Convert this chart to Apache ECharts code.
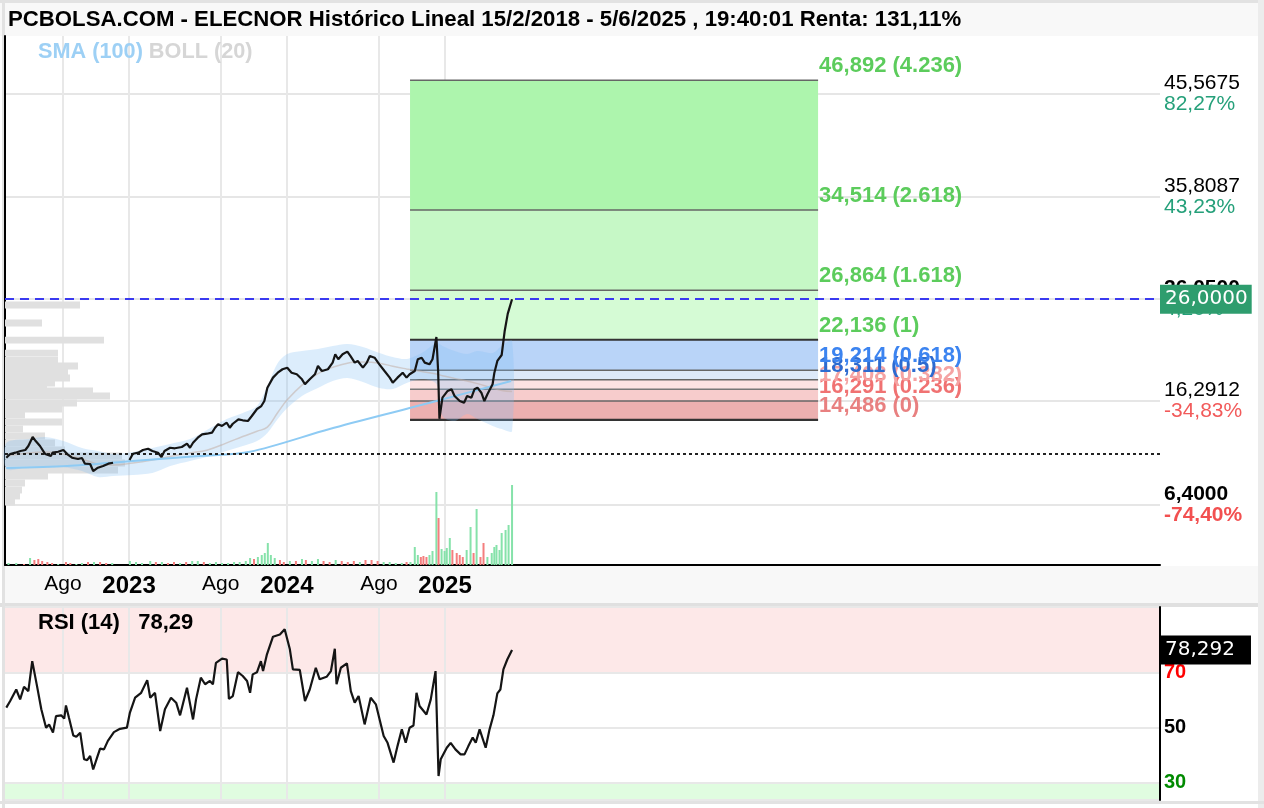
<!DOCTYPE html>
<html><head><meta charset="utf-8">
<script src="https://cdn.jsdelivr.net/npm/echarts@6/dist/echarts.min.js"></script>
<style>html,body{margin:0;padding:0;background:#fff}#c{width:1264px;height:808px}</style>
</head><body><div id="c"></div>
<script>
// ---------------- DATA ----------------
const priceDates = ['2022-03-23','2022-04-01','2022-04-13','2022-04-25','2022-05-06','2022-05-13','2022-05-23','2022-05-30','2022-06-09','2022-06-21','2022-07-04','2022-07-08','2022-07-21','2022-08-02','2022-08-11','2022-08-22','2022-09-05','2022-09-14','2022-09-21','2022-10-03','2022-10-10','2022-10-21','2022-11-02','2022-11-14','2022-11-25','2022-12-15','2023-01-02','2023-01-10','2023-01-23','2023-02-02','2023-02-14','2023-02-24','2023-03-09','2023-03-17','2023-03-24','2023-04-06','2023-04-17','2023-05-03','2023-05-15','2023-05-22','2023-05-29','2023-06-09','2023-06-19','2023-06-30','2023-07-12','2023-07-19','2023-07-26','2023-08-04','2023-08-15','2023-08-22','2023-08-29','2023-09-11','2023-09-21','2023-10-03','2023-10-12','2023-10-24','2023-11-03','2023-11-10','2023-11-17','2023-11-30','2023-12-11','2023-12-22','2024-01-02','2024-01-12','2024-01-24','2024-02-05','2024-02-12','2024-02-23','2024-03-06','2024-03-13','2024-03-22','2024-04-05','2024-04-16','2024-04-22','2024-04-29','2024-05-09','2024-05-20','2024-05-27','2024-06-06','2024-06-13','2024-06-25','2024-07-04','2024-07-11','2024-07-22','2024-08-02','2024-08-14','2024-08-26','2024-09-02','2024-09-13','2024-09-25','2024-10-04','2024-10-11','2024-10-23','2024-10-30','2024-11-08','2024-11-15','2024-11-26','2024-12-03','2024-12-12','2024-12-16','2024-12-19','2024-12-26','2025-01-07','2025-01-16','2025-01-23','2025-02-04','2025-02-14','2025-02-21','2025-03-03','2025-03-10','2025-03-17','2025-03-26','2025-04-02','2025-04-09','2025-04-21','2025-04-25','2025-05-02','2025-05-12','2025-05-19','2025-05-26','2025-06-05'];
const priceValues = [10.88,11.23,11.36,11.52,11.62,12.00,12.86,12.47,12.00,11.23,11.04,11.36,11.45,11.62,11.23,10.88,10.76,10.85,10.31,10.28,9.61,9.93,10.09,10.31,10.40,null,10.66,11.26,11.36,11.62,11.74,11.52,11.36,10.95,11.52,11.83,11.78,11.90,12.22,11.83,12.31,12.79,13.11,13.17,13.27,13.74,14.07,13.91,14.22,13.74,14.12,14.54,14.45,14.38,14.86,15.53,15.81,16.29,17.56,18.52,18.99,19.32,19.47,18.99,18.84,18.36,17.89,18.36,18.84,19.63,19.15,19.32,19.95,20.75,20.27,20.75,21.00,20.59,19.95,20.11,19.47,19.95,20.59,20.42,19.79,19.15,18.52,18.04,18.52,18.99,18.52,18.84,19.15,20.27,20.42,19.95,19.79,20.27,22.40,19.15,14.60,16.61,17.25,17.41,16.77,16.29,16.13,16.77,16.61,17.41,17.56,17.08,16.29,16.93,17.89,18.96,20.11,20.68,22.97,24.60,26.00];

const smaDates = ['2022-03-23','2022-08-11','2023-01-10','2023-06-12','2023-10-08','2024-04-09','2024-10-11','2024-12-12','2025-06-03'];
const smaValues = [9.90,10.09,10.57,11.04,11.45,13.62,15.62,16.29,18.20];

const bollDates = ['2022-03-23','2022-05-13','2022-06-21','2022-08-02','2022-09-14','2022-10-21','2022-11-25','2023-01-10','2023-02-24','2023-04-06','2023-05-22','2023-06-30','2023-08-15','2023-09-21','2023-10-24','2023-11-17','2023-12-11','2024-01-02','2024-02-05','2024-03-13','2024-04-16','2024-05-20','2024-06-25','2024-08-02','2024-09-02','2024-10-04','2024-11-08','2024-12-12','2024-12-26','2025-01-23','2025-02-21','2025-03-17','2025-04-21','2025-05-12','2025-06-05'];
const bollUpper = [12.28,12.66,12.86,12.47,11.81,11.52,11.23,11.42,11.81,12.19,12.66,13.52,14.57,15.15,15.81,17.72,19.92,20.78,21.06,21.25,21.54,21.73,21.44,20.87,20.49,20.30,20.87,21.83,21.54,21.06,20.78,21.06,20.87,21.54,22.02];
const bollLower = [9.80,9.99,9.99,9.99,9.61,9.04,9.13,9.23,9.42,10.09,10.57,10.95,11.52,11.99,12.47,13.24,14.57,15.62,16.77,17.53,18.20,18.49,18.10,17.53,17.44,18.01,18.39,17.91,14.86,14.38,15.05,14.57,13.91,13.62,13.43];
const bollMid = [11.04,11.33,11.42,11.23,10.76,10.28,10.18,10.37,10.66,11.00,11.33,11.60,12.30,12.90,13.40,13.80,15.20,16.40,17.80,18.90,19.50,19.90,20.00,19.90,19.60,19.35,19.10,18.87,18.70,18.45,18.20,17.95,17.53,17.30,17.20];

const volDates = ['2022-03-28','2022-04-15','2022-05-03','2022-05-17','2022-05-27','2022-06-05','2022-06-14','2022-06-26','2022-07-07','2022-07-21','2022-08-08','2022-08-18','2022-09-01','2022-09-14','2022-09-28','2022-10-12','2022-10-26','2022-11-09','2022-11-23','2023-01-03','2023-01-17','2023-01-31','2023-02-19','2023-03-04','2023-03-18','2023-04-01','2023-04-15','2023-04-29','2023-05-13','2023-05-27','2023-06-09','2023-06-23','2023-07-07','2023-07-21','2023-08-04','2023-08-18','2023-09-01','2023-09-14','2023-09-28','2023-10-08','2023-10-17','2023-10-26','2023-11-04','2023-11-11','2023-11-18','2023-11-25','2023-12-04','2023-12-16','2023-12-25','2024-01-08','2024-01-22','2024-02-05','2024-02-14','2024-02-28','2024-03-13','2024-03-26','2024-04-09','2024-04-23','2024-05-07','2024-05-21','2024-06-04','2024-06-18','2024-07-01','2024-07-15','2024-07-29','2024-08-12','2024-08-26','2024-09-09','2024-09-23','2024-10-04','2024-10-13','2024-10-23','2024-10-30','2024-11-06','2024-11-12','2024-11-19','2024-11-26','2024-12-03','2024-12-12','2024-12-17','2024-12-24','2024-12-31','2025-01-05','2025-01-12','2025-01-18','2025-01-28','2025-02-04','2025-02-11','2025-02-20','2025-03-01','2025-03-08','2025-03-15','2025-03-24','2025-03-31','2025-04-09','2025-04-19','2025-04-25','2025-04-30','2025-05-07','2025-05-12','2025-05-21','2025-05-28','2025-06-05'];
const volValues = [2,2,1,7,5,6,4,3,2,1,3,2,1,2,3,3,3,2,2,4,3,2,4,3,3,2,3,2,3,4,4,3,2,3,2,2,3,3,4,7,6,8,10,12,22,10,7,5,3,4,4,6,5,4,6,4,3,5,4,3,4,3,5,5,4,3,3,2,2,3,3,18,10,8,9,8,10,14,73,47,16,14,17,27,15,12,10,8,15,38,12,56,8,22,8,12,18,20,15,32,35,40,80];
const volUp = [1,1,0,1,0,0,0,0,0,1,0,0,1,1,0,1,0,0,1,1,1,1,1,0,1,0,0,1,0,1,1,0,1,1,1,1,1,1,1,1,0,1,1,1,1,1,1,0,0,1,0,1,0,1,1,0,0,1,0,0,0,1,0,0,0,1,1,1,1,0,1,1,1,0,0,0,1,1,1,0,1,1,1,1,0,0,0,0,1,1,0,1,0,0,1,1,1,1,1,1,1,1,1];

const profilePrices = [25.45,23.73,22.10,20.86,20.19,19.63,19.06,18.49,18.01,17.63,17.25,16.77,16.10,15.53,14.96,14.29,13.62,12.95,12.28,11.62,11.04,10.37,9.71,9.14,8.47,7.80,7.23,6.65];
const profileVolumes = [75,37,99,53,53,73,63,65,50,42,88,105,72,57,20,57,18,40,50,60,117,120,113,43,20,17,15,10];

const rsiDates = ['2022-03-23','2022-04-01','2022-04-15','2022-04-24','2022-05-03','2022-05-13','2022-05-22','2022-06-02','2022-06-12','2022-06-23','2022-06-30','2022-07-09','2022-07-16','2022-07-28','2022-08-04','2022-08-08','2022-08-15','2022-08-25','2022-09-01','2022-09-10','2022-09-19','2022-09-26','2022-10-03','2022-10-10','2022-10-19','2022-10-26','2022-11-04','2022-11-13','2022-11-27','2022-12-11','2022-12-27','2023-01-03','2023-01-15','2023-01-29','2023-02-12','2023-02-19','2023-03-02','2023-03-14','2023-03-25','2023-04-08','2023-04-20','2023-04-29','2023-05-15','2023-05-29','2023-06-05','2023-06-16','2023-06-26','2023-07-07','2023-07-14','2023-07-21','2023-08-04','2023-08-15','2023-08-20','2023-08-29','2023-09-10','2023-09-21','2023-10-01','2023-10-08','2023-10-14','2023-10-24','2023-11-02','2023-11-07','2023-11-16','2023-11-30','2023-12-16','2023-12-27','2024-01-08','2024-01-15','2024-01-31','2024-02-12','2024-02-23','2024-03-08','2024-03-17','2024-04-02','2024-04-12','2024-04-21','2024-04-25','2024-05-05','2024-05-19','2024-05-28','2024-06-06','2024-06-15','2024-06-29','2024-07-13','2024-07-25','2024-08-12','2024-08-21','2024-09-04','2024-09-13','2024-09-23','2024-10-02','2024-10-11','2024-10-20','2024-10-27','2024-11-03','2024-11-19','2024-11-29','2024-12-10','2024-12-17','2024-12-22','2025-01-05','2025-01-14','2025-01-25','2025-02-06','2025-02-15','2025-02-24','2025-03-06','2025-03-13','2025-03-22','2025-04-05','2025-04-14','2025-04-23','2025-05-02','2025-05-09','2025-05-16','2025-05-25','2025-06-05'];
const rsiValues = [57.3,59.7,63.9,60.3,64.9,63.3,74.2,65.2,56.7,50.0,51.2,48.2,54.2,54.5,53.3,58.1,53.6,47.2,46.7,48.2,38.5,38.2,39.7,34.8,39.1,42.4,42.1,45.2,48.4,49.6,50.0,55.5,60.9,62.7,67.3,60.9,62.7,48.8,56.7,60.9,59.1,54.5,64.5,53.0,60.3,68.2,65.8,67.0,65.8,73.6,75.1,74.8,60.5,61.5,70.2,68.8,67.0,62.7,69.4,70.2,74.2,70.6,76.7,83.1,83.9,85.8,78.5,71.2,71.0,59.7,63.9,71.8,67.6,68.5,70.6,78.7,65.8,71.8,73.4,63.3,59.1,61.5,51.2,60.9,58.5,47.0,44.5,37.3,43.3,49.4,44.5,50.0,50.8,62.7,57.9,54.8,60.3,70.6,32.4,38.5,42.7,44.5,42.1,40.3,40.3,43.3,46.4,44.5,49.4,42.7,49.4,54.5,62.5,63.9,71.2,74.8,78.29];

const fibRatios = ['0','0.236','0.382','0.5','0.618','1','1.618','2.618','4.236'];
const fibPrices = [14.486,16.291,17.408,18.311,19.214,22.136,26.864,34.514,46.892];

const priceTicks = [45.5675,35.8087,26.05,16.2912,6.4];
const priceTickLabels = ['45,5675','35,8087','26,0500','16,2912','6,4000'];
const priceTickPct = ['82,27%','43,23%','4,20%','-34,83%','-74,40%'];
const timeTicks = ['2022-08-01','2023-01-01','2023-08-01','2024-01-01','2024-08-01','2025-01-01'];
const monthNames = ['Ene','Feb','Mar','Abr','May','Jun','Jul','Ago','Sep','Oct','Nov','Dic'];
const rsiTicks = [30,50,70];
const lastPrice = 26.0;
const startPrice = 11.25;
const lastRsi = 78.292;

// ---------------- LAYOUT / STYLE ----------------
const FONT = "'Liberation Sans', Arial, Helvetica, sans-serif";
const BADGE_FONT = "'DejaVu Sans', sans-serif";
const X_MIN = '2022-03-20', X_MAX = '2029-07-13';
const P_MIN = 0.646, P_MAX = 51.11;
const R_MIN = 23.7, R_MAX = 93.9;
const FIB_START = '2024-10-12', FIB_END = '2027-05-14';
const fibBandColors = ['#ecb0b0','#f7cccc','#fbe2e2','#dde9f9','#b9d4f8','#d5fbd5','#c6f8c6','#adf5ad'];
const fibLabelColors = ['#e88080','#f07272','#f5a3a3','#2d6bd0','#3c84f0','#5ccc5c','#5ccc5c','#5ccc5c','#5ccc5c'];
const fibLineColors = ['#333','#666','#777','#666','#666','#333','#666','#666','#666'];
const fibLineWidths = [2.2,1.5,1.5,1.5,1.5,2.2,1.5,1.5,1.5];

function ts(s){ const p = s.split('-'); return new Date(+p[0], +p[1]-1, +p[2]).getTime(); }
function comma(v, d){ return v.toFixed(d).replace('.', ','); }

const timeTickTs = timeTicks.map(ts);
const xMin = ts(X_MIN), xMax = ts(X_MAX);
const fibT0 = ts(FIB_START), fibT1 = ts(FIB_END);

const chart = echarts.init(document.getElementById('c'));

const option = {
  animation: false,
  backgroundColor: '#ffffff',
  textStyle: { fontFamily: FONT },
  graphic: [
    { type:'rect', z:-10, shape:{x:0,y:0,width:1264,height:36}, style:{fill:'#f8f8f8'} },
    { type:'rect', z:-10, shape:{x:0,y:0,width:1264,height:3}, style:{fill:'#e2e2e2'} },
    { type:'rect', z:-10, shape:{x:5,y:566,width:1253,height:37}, style:{fill:'#f8f8f8'} },
    { type:'rect', z:-10, shape:{x:0,y:603,width:1264,height:4}, style:{fill:'#e0e0e0'} },
    { type:'rect', z:-10, shape:{x:2,y:0,width:3,height:808}, style:{fill:'#e2e2e2'} },
    { type:'rect', z:-10, shape:{x:1258,y:0,width:6,height:808}, style:{fill:'#ececec'} },
    { type:'rect', z:-10, shape:{x:0,y:801,width:1264,height:3}, style:{fill:'#e2e2e2'} }
  ],
  title: [
    { text:'PCBOLSA.COM - ELECNOR Histórico Lineal 15/2/2018 - 5/6/2025 , 19:40:01 Renta: 131,11%',
      left:8, top:9, padding:0,
      textStyle:{ fontFamily:FONT, fontSize:22.2, fontWeight:'bold', color:'#000' } },
    { text:'{a|SMA (100)} {b|BOLL (20)}', left:38, top:41, padding:0,
      textStyle:{ fontFamily:FONT, fontSize:21.7, fontWeight:'bold', color:'#ccc',
        rich:{ a:{fontFamily:FONT, fontSize:21.7, fontWeight:'bold', color:'#9dd0f5'},
               b:{fontFamily:FONT, fontSize:21.7, fontWeight:'bold', color:'#d6d6d6'} } } },
    { text:'RSI (14)   ' + comma(lastRsi, 2), left:38, top:612, padding:0,
      textStyle:{ fontFamily:FONT, fontSize:22, fontWeight:'bold', color:'#000' } }
  ],
  grid: [
    { left:5, right:104, top:36, bottom:243 },
    { left:5, right:104, top:465, bottom:243 },
    { left:5, right:104, top:607, bottom:8 }
  ],
  xAxis: [
    { type:'value', gridIndex:0, min:xMin, max:xMax,
      axisLine:{ show:true, lineStyle:{color:'#000', width:2} },
      axisTick:{ show:false, customValues: timeTickTs },
      axisLabel:{ customValues: timeTickTs, margin:9, hideOverlap:false,
        formatter: function(v){ const d = new Date(v); return d.getMonth()===0 ? '{y|'+d.getFullYear()+'}' : '{m|'+monthNames[d.getMonth()]+'}'; },
        rich:{ m:{fontFamily:FONT, fontSize:21, color:'#000'}, y:{fontFamily:FONT, fontSize:24, fontWeight:'bold', color:'#000'} } },
      splitLine:{ show:true, lineStyle:{color:'#e8e8e8', width:2} } },
    { type:'value', gridIndex:1, min:xMin, max:xMax, show:false },
    { type:'value', gridIndex:2, min:xMin, max:xMax,
      axisLine:{show:false}, axisTick:{show:false, customValues: timeTickTs},
      axisLabel:{show:false, customValues: timeTickTs},
      splitLine:{ show:true, lineStyle:{color:'#e8e8e8', width:2} } },
    { type:'value', gridIndex:0, min:0, max:1155, show:false, position:'top' }
  ],
  yAxis: [
    { type:'value', gridIndex:0, position:'right', min:P_MIN, max:P_MAX,
      axisLine:{ show:true, lineStyle:{color:'#000', width:2} },
      axisTick:{ show:false, customValues: priceTicks },
      axisLabel:{ customValues: priceTicks, margin:4, hideOverlap:false,
        formatter: function(v){
          let i = 0; for (let k=0;k<priceTicks.length;k++){ if (Math.abs(priceTicks[k]-v)<1e-6) i = k; }
          const neg = priceTickPct[i].charAt(0)==='-';
          const bold = (i===2 || i===4);
          return '{' + (bold?'vb':'v') + '|' + priceTickLabels[i] + '}\n{' + (neg?(bold?'rb':'r'):'g') + '|' + priceTickPct[i] + '}';
        },
        rich:{
          v:{fontFamily:FONT, fontSize:21, color:'#000', lineHeight:21},
          vb:{fontFamily:FONT, fontSize:21, fontWeight:'bold', color:'#000', lineHeight:21},
          g:{fontFamily:FONT, fontSize:21, color:'#25a07a', lineHeight:21},
          r:{fontFamily:FONT, fontSize:21, color:'#f25a5a', lineHeight:21},
          rb:{fontFamily:FONT, fontSize:21, fontWeight:'bold', color:'#f25050', lineHeight:21}
        } },
      splitLine:{ show:true, lineStyle:{color:'#e6e6e6', width:2} } },
    { type:'value', gridIndex:1, min:0, max:100, show:false },
    { type:'value', gridIndex:2, position:'right', min:R_MIN, max:R_MAX,
      axisLine:{ show:true, lineStyle:{color:'#000', width:2} },
      axisTick:{ show:false, customValues:[R_MIN,30,50,70,R_MAX] },
      axisLabel:{ customValues: rsiTicks, margin:4,
        formatter: function(v){ return v===70 ? '{r|70}' : (v===30 ? '{g|30}' : '{k|'+v+'}'); },
        rich:{ r:{fontFamily:FONT, fontSize:20, fontWeight:'bold', color:'#ff0000'},
               g:{fontFamily:FONT, fontSize:20, fontWeight:'bold', color:'#008a00'},
               k:{fontFamily:FONT, fontSize:20, fontWeight:'bold', color:'#000'} } },
      splitLine:{ show:true, lineStyle:{color:'#e8e8e8', width:2} },
      splitArea:{ show:true, areaStyle:{ color:['#e0fce0','#ffffff','#ffffff','#fde8e8'] } } }
  ],
  series: [
    { // Fibonacci tool bands + level lines
      type:'custom', xAxisIndex:0, yAxisIndex:0, z:1, silent:true, clip:false,
      data: fibPrices.map((p)=>[fibT0, p]),
      encode:{x:0, y:1},
      renderItem: function(params, api){
        const i = params.dataIndex;
        const a = api.coord([fibT0, fibPrices[i]]);
        const b = api.coord([fibT1, fibPrices[i]]);
        const children = [];
        if (i < fibPrices.length - 1) {
          const top = api.coord([fibT0, fibPrices[i+1]]);
          children.push({ type:'rect', shape:{x:a[0], y:top[1], width:b[0]-a[0], height:a[1]-top[1]}, style:{fill:fibBandColors[i]} });
        }
        children.push({ type:'line', shape:{x1:a[0], y1:a[1], x2:b[0], y2:b[1]}, style:{stroke:fibLineColors[i], lineWidth:fibLineWidths[i]} });
        return { type:'group', children: children };
      }
    },
    { // Fibonacci labels
      type:'custom', xAxisIndex:0, yAxisIndex:0, z:6, silent:true, clip:false,
      data: fibPrices.map((p)=>[fibT1, p]),
      encode:{x:0, y:1},
      renderItem: function(params, api){
        const i = params.dataIndex;
        const b = api.coord([fibT1, fibPrices[i]]);
        return { type:'text', x:b[0]+1, y:b[1]-3,
          style:{ text: comma(fibPrices[i],3) + ' (' + fibRatios[i] + ')', fill: fibLabelColors[i],
                  font: 'bold 22px ' + FONT, align:'left', verticalAlign:'bottom' } };
      }
    },
    { // volume profile
      type:'custom', xAxisIndex:3, yAxisIndex:0, z:2, silent:true,
      data: profilePrices.map((p,i)=>[profileVolumes[i], p]),
      encode:{x:0, y:1},
      renderItem: function(params, api){
        const v = api.value(0), p = api.value(1);
        const a = api.coord([0, p + 0.33]);
        const b = api.coord([v, p - 0.33]);
        return { type:'rect', shape:{x:a[0], y:a[1], width:b[0]-a[0], height:b[1]-a[1]}, style:{fill:'#e0e0e0'} };
      }
    },
    { // Bollinger band
      type:'custom', xAxisIndex:0, yAxisIndex:0, z:3, silent:true,
      data: [[ts(bollDates[0]), bollUpper[0]]],
      encode:{x:0, y:1},
      renderItem: function(params, api){
        const pts = [];
        for (let i=0;i<bollDates.length;i++) pts.push(api.coord([ts(bollDates[i]), bollUpper[i]]));
        for (let i=bollDates.length-1;i>=0;i--) pts.push(api.coord([ts(bollDates[i]), bollLower[i]]));
        return { type:'polygon', shape:{points:pts, smooth:0.3}, style:{fill:'rgba(130,192,245,0.28)'} };
      }
    },
    { name:'BOLL (20)', type:'line', xAxisIndex:0, yAxisIndex:0, z:4, symbol:'none', smooth:0.4, silent:true,
      data: bollDates.map((d,i)=>[ts(d), bollMid[i]]),
      lineStyle:{ color:'rgba(195,175,165,0.55)', width:1.5 } },
    { name:'SMA (100)', type:'line', xAxisIndex:0, yAxisIndex:0, z:4, symbol:'none', smooth:0.3, silent:true,
      data: smaDates.map((d,i)=>[ts(d), smaValues[i]]),
      lineStyle:{ color:'#8ecbf4', width:2 } },
    { name:'ELECNOR', type:'line', xAxisIndex:0, yAxisIndex:0, z:5, symbol:'none', connectNulls:false, silent:true,
      data: priceDates.map((d,i)=>[ts(d), priceValues[i]]),
      lineStyle:{ color:'#151515', width:2.2 },
      markLine:{ symbol:['none','none'], silent:true, animation:false,
        data:[
          { yAxis:lastPrice, lineStyle:{color:'#3a3af0', type:[9,6], width:2},
            label:{ show:true, position:'end', distance:0, formatter: comma(lastPrice,4), color:'#fff',
                    backgroundColor:'#2e9d6e', padding:[5,4,4,5], fontFamily:BADGE_FONT, fontSize:20 } },
          { yAxis:startPrice, lineStyle:{color:'#222', type:[3,3], width:2}, label:{show:false} }
        ] } },
    { name:'Volumen', type:'bar', xAxisIndex:1, yAxisIndex:1, z:1, barWidth:2, silent:true,
      data: volDates.map((d,i)=>({ value:[ts(d), volValues[i]], itemStyle:{ color: volUp[i] ? '#86e2aa' : '#f47e7e' } })) },
    { name:'RSI (14)', type:'line', xAxisIndex:2, yAxisIndex:2, z:5, symbol:'none', silent:true,
      data: rsiDates.map((d,i)=>[ts(d), rsiValues[i]]),
      lineStyle:{ color:'#151515', width:2.2 },
      markLine:{ symbol:['none','none'], silent:true, animation:false,
        data:[ { yAxis:lastRsi, lineStyle:{color:'rgba(0,0,0,0)', width:1},
          label:{ show:true, position:'end', distance:0, formatter: comma(lastRsi,3), color:'#fff',
                  backgroundColor:'#000', padding:[5,16,4,5], fontFamily:BADGE_FONT, fontSize:20 } } ] } }
  ]
};
chart.setOption(option);
</script>
</body></html>
